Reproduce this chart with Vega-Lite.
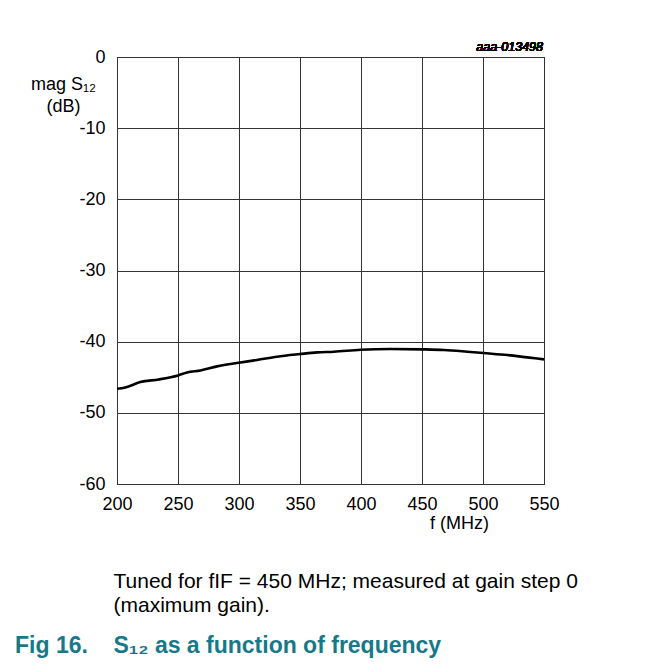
{
  "$schema": "https://vega.github.io/schema/vega-lite/v6.json",
  "autosize": {"type": "none"},
  "width": 427,
  "height": 427,
  "padding": {"left": 117, "top": 57, "right": 116, "bottom": 180},
  "background": "white",
  "config": {
    "font": "Liberation Sans",
    "view": {"stroke": "#000000", "strokeWidth": 1},
    "axis": {
      "labelFont": "Liberation Sans",
      "titleFont": "Liberation Sans",
      "labelColor": "#000000",
      "titleColor": "#000000",
      "titleFontWeight": "normal",
      "gridColor": "#333333",
      "gridOpacity": 1,
      "gridWidth": 1,
      "domain": false,
      "ticks": false,
      "tickSize": 0,
      "labelFlush": false
    }
  },
  "title": {
    "text": "Fig 16.\u00a0\u00a0\u00a0 S₁₂ as a function of frequency",
    "orient": "bottom",
    "anchor": "start",
    "frame": "group",
    "dx": -102,
    "offset": 20,
    "font": "Liberation Sans",
    "fontSize": 23,
    "fontWeight": "bold",
    "color": "#16798a"
  },
  "data": {
    "values": [
      {"f": 200, "mag": -46.62},
      {"f": 206.8, "mag": -46.43},
      {"f": 219.1, "mag": -45.68},
      {"f": 234.2, "mag": -45.31},
      {"f": 250, "mag": -44.74},
      {"f": 257.4, "mag": -44.32},
      {"f": 268.4, "mag": -44.04},
      {"f": 282, "mag": -43.47},
      {"f": 299.8, "mag": -42.96},
      {"f": 314.8, "mag": -42.58},
      {"f": 331.2, "mag": -42.11},
      {"f": 350, "mag": -41.74},
      {"f": 364, "mag": -41.5},
      {"f": 377.7, "mag": -41.41},
      {"f": 399.6, "mag": -41.13},
      {"f": 424.2, "mag": -41.03},
      {"f": 450.2, "mag": -41.08},
      {"f": 468, "mag": -41.17},
      {"f": 487, "mag": -41.41},
      {"f": 500.2, "mag": -41.6},
      {"f": 520, "mag": -41.88},
      {"f": 536.3, "mag": -42.21},
      {"f": 550, "mag": -42.49}
    ]
  },
  "layer": [
    {
      "mark": {"type": "line", "color": "#000000", "strokeWidth": 2.6, "interpolate": "monotone"},
      "encoding": {
        "x": {
          "field": "f",
          "type": "quantitative",
          "scale": {"domain": [200, 550], "nice": false, "zero": false},
          "axis": {
            "orient": "bottom",
            "values": [200, 250, 300, 350, 400, 450, 500, 550],
            "grid": true,
            "labelFontSize": 18,
            "labelPadding": 11,
            "labelExpr": "'' + datum.value",
            "title": "f (MHz)",
            "titleFontSize": 18,
            "titleX": 342,
            "titleY": 44,
            "titleAlign": "center",
            "titleBaseline": "alphabetic"
          }
        },
        "y": {
          "field": "mag",
          "type": "quantitative",
          "scale": {"domain": [-60, 0], "nice": false, "zero": false},
          "title": ["mag S₁₂", "(dB)"],
          "axis": {
            "values": [-60, -50, -40, -30, -20, -10, 0],
            "grid": true,
            "labelFontSize": 18,
            "labelPadding": 12,
            "labelExpr": "'' + datum.value",
            "titleFontSize": 18,
            "titleAngle": 0,
            "titleAlign": "center",
            "titleBaseline": "alphabetic",
            "titleLineHeight": 22,
            "titleX": -54,
            "titleY": 32
          }
        }
      }
    },
    {
      "mark": {
        "type": "text",
        "align": "right",
        "baseline": "alphabetic",
        "dx": -1,
        "dy": -6,
        "font": "Liberation Sans",
        "fontStyle": "italic",
        "fontWeight": "normal",
        "fontSize": 12.5,
        "color": "#000000"
      },
      "encoding": {
        "x": {
          "datum": 550,
          "type": "quantitative",
          "axis": {
            "orient": "bottom",
            "labels": false,
            "grid": false,
            "title": ["Tuned for fIF = 450 MHz; measured at gain step 0", "(maximum gain)."],
            "titleFontSize": 21,
            "titleAlign": "left",
            "titleBaseline": "alphabetic",
            "titleLineHeight": 24,
            "titleX": -4,
            "titleY": 103
          }
        },
        "y": {"datum": 0, "type": "quantitative", "title": ["mag S₁₂", "(dB)"]},
        "text": {"value": "aaa-013498"}
      }
    }
  ],
  "resolve": {"axis": {"x": "independent"}}
}
